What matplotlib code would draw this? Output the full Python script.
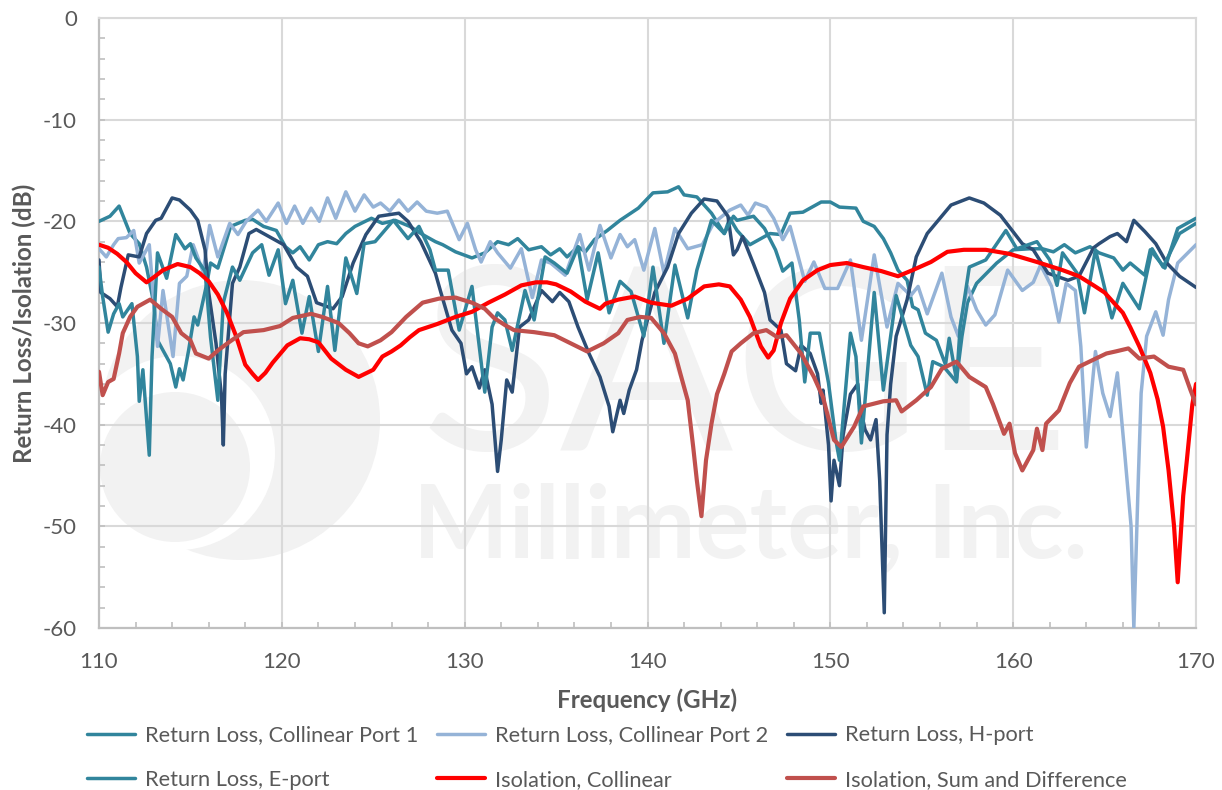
import matplotlib
matplotlib.use("Agg")
import matplotlib.pyplot as plt
from matplotlib.patches import Ellipse
from matplotlib.ticker import MultipleLocator

plt.rcParams['font.family'] = ['Lato', 'DejaVu Sans']
plt.rcParams['axes.unicode_minus'] = False

f_port1 = [110, 110.6, 111.1, 111.7, 112.2, 112.6, 113, 113.2, 113.9, 114.2, 114.4, 114.6, 114.9, 115.2, 115.4, 115.9,
           116.1, 116.5, 117.2, 118, 118.4, 119, 119.7, 120.2, 120.6, 121, 121.5, 122, 122.5, 123, 123.5, 124, 124.9,
           125.5, 126.2, 127, 127.7, 128.4, 128.8, 129.5, 130.4, 131.1, 131.8, 132.4, 132.9, 133.5, 134.2, 134.7,
           135.2, 135.6, 136.2, 136.6, 137.1, 137.8, 138.5, 139.5, 140.3, 141.1, 141.7, 142, 142.7, 143.5, 144.2,
           144.5, 144.9, 145.6, 146.2, 146.7, 147.3, 147.8, 148.5, 149.5, 150, 150.5, 151.4, 151.8, 152.4, 152.9,
           153.3, 153.7, 154.2, 154.5, 154.8, 155.2, 155.8, 156.3, 156.5, 156.9, 157.2, 157.5, 158, 159.1, 160, 160.9,
           161.6, 162.2, 162.8, 163.4, 164.2, 164.7, 165.5, 166, 166.4, 167.2, 167.5, 168.3, 169, 170]
port1 = [-20, -19.5, -18.5, -21.2, -22.2, -24.5, -28.1, -31.7, -34, -36.3, -34.5, -35.6, -32.7, -29.4, -30.2, -26.1,
         -24.1, -24.6, -20.5, -19.9, -19.8, -20.5, -20.9, -22.5, -23.1, -22.5, -23.8, -22.3, -22, -22.2, -21.2, -20.5,
         -19.7, -20.2, -19.9, -20.5, -21.3, -22, -22.3, -23, -23.6, -23.1, -22, -22.3, -21.7, -22.8, -22.5, -23.3,
         -22.7, -23.5, -22.5, -23, -21.8, -20.9, -19.9, -18.7, -17.2, -17.1, -16.6, -17.4, -17.6, -19.2, -21.2,
         -19.7, -20.9, -22.3, -21.7, -21.2, -21.3, -19.2, -19.1, -18.1, -18.1, -18.6, -18.7, -20, -20.5, -21.7,
         -23.1, -24.8, -25.8, -28.4, -28.7, -31, -31.7, -34.1, -31.5, -35.6, -31.3, -28, -26.1, -24.1, -22.8, -22.7,
         -22.7, -23, -22.3, -23.1, -22.5, -23.1, -23.6, -24.8, -24.1, -25.3, -22.8, -24.6, -20.7, -19.7]

f_port2 = [110, 110.4, 110.8, 111.05, 111.5, 111.9, 112.2, 112.75, 113, 113.2, 113.5, 114.05, 114.4, 114.8, 115.15,
           115.7, 116.05, 116.5, 117.15, 117.6, 118.05, 118.7, 119.15, 119.8, 120.25, 120.7, 121.15, 121.6, 122.05,
           122.5, 122.95, 123.5, 124, 124.5, 125, 125.4, 125.9, 126.4, 126.9, 127.4, 127.9, 128.5, 129.05, 129.7,
           130.15, 130.6, 130.9, 131.4, 131.8, 132.5, 133.1, 133.7, 134.2, 134.7, 135.5, 136.3, 136.8, 137.4, 138,
           138.5, 138.9, 139.3, 139.8, 140.4, 140.9, 141.5, 142.2, 143, 143.6, 144.5, 145.1, 145.5, 145.9, 146.5,
           146.9, 147.4, 147.8, 148.1, 148.6, 149.1, 149.7, 150.4, 151.1, 151.7, 152.4, 153.1, 153.7, 154.4, 154.8,
           155.3, 156.1, 156.6, 157, 157.5, 158, 158.5, 159, 159.7, 160.5, 161.1, 161.5, 162.1, 162.5, 162.9, 163.4,
           163.7, 164, 164.5, 164.9, 165.3, 165.7, 166.1, 166.45, 166.6, 166.85, 167, 167.3, 167.8, 168.2, 168.5, 169,
           170]
port2 = [-22.7, -23.5, -22.3, -21.7, -21.6, -20.9, -24.1, -22.3, -28, -32.3, -26.8, -33.3, -26.1, -25.4, -22.3,
         -25, -20.4, -23.5, -20.2, -21.3, -20, -18.9, -20, -18.2, -20.2, -18.5, -20.2, -18.7, -20,
         -17.7, -19.7, -17.1, -19, -17.4, -18.6, -18.2, -19, -17.9, -19, -18.1, -19, -19.2, -19, -21.8,
         -20.2, -22.8, -24, -22, -23.1, -24.6, -22.7, -27.5, -23.8, -24.1, -25.3, -21.3, -24.8, -20.4, -23.6,
         -21.3, -22.5, -21.8, -24.8, -20.7, -25.1, -20.7, -22.7, -22.3, -20.2, -18.9, -18.4, -19.4, -18.2, -18.6,
         -19.7, -21.8, -20.5, -22.5, -25.9, -24, -26.6, -26.6, -23.8, -31.7, -23.3, -30.4, -26.1, -27.3, -26.4,
         -29.1, -25.1, -29.4, -31.3, -26.4, -28.7, -30.2, -29.2, -24.8, -26.8, -26, -24.3, -26.4, -29.9, -26.1, -26.8,
         -32.3, -42.2, -32.8, -36.9, -39.2, -34.9, -42.8, -50, -60, -45, -36.9, -31.3, -28.9, -31.2, -27.7, -24.1,
         -22.3]

f_hport = [110, 110.1, 110.6, 111, 111.2, 111.6, 112.2, 112.6, 113.1, 113.4, 114, 114.4, 115, 115.4, 115.8, 116, 116.4,
           116.7, 116.8, 116.9, 117.3, 117.7, 118.2, 118.6, 119.3, 120.1, 120.8, 121.4, 121.9, 122.8, 123.3, 123.9,
           124.6, 125.3, 126.4, 126.9, 127.6, 128.4, 128.7, 129.3, 129.8, 130.1, 130.4, 130.8, 131.1, 131.5, 131.8, 132,
           132.3, 132.6, 133, 133.5, 134.2, 134.8, 135.2, 135.7, 136.2, 136.8, 137.4, 137.9, 138.1, 138.5, 138.7, 139,
           139.4, 139.7, 140.4, 141.1, 141.7, 142.4, 143.1, 143.8, 144.4, 144.7, 144.9, 145.2, 145.8, 146.4, 146.7,
           147.3, 147.6, 148.1, 148.4, 148.9, 149.3, 149.5, 149.6, 149.9, 150.04, 150.2, 150.5, 150.7, 151.1, 151.5,
           151.6, 151.9, 152.2, 152.5, 152.7, 152.95, 153.1, 153.3, 153.6, 154.2, 154.7, 155.3, 156, 156.6, 157.6, 158.4,
           159.3, 159.9, 160.5, 161.1, 161.9, 163, 163.6, 164.4, 164.7, 165.3, 165.7, 166.2, 166.6, 167.2, 167.8, 168.4,
           169.1, 170]
hport = [-23.8, -27, -27.6, -28.4, -26.5, -23.3, -23.5, -21.2, -19.9, -19.7, -17.7, -17.9, -18.9, -19.9, -22.8, -27, -32,
         -37.2, -42, -35, -26.1, -24.5, -21.2, -20.8, -21.5, -22.3, -24.5, -25.4, -28, -28.6, -27.4, -24.1,
         -21.3, -19.5, -19.2, -20, -22, -25.1, -27, -30.7, -32, -35, -34.3, -36.4, -34.6, -38, -44.6, -41.5,
         -35.6, -36.8, -30.4, -29.7, -26.8, -27.9, -27, -27.9, -30.4, -33, -35.3, -38.2, -40.7, -37.6, -38.9, -36.6,
         -34.6, -31.7, -27, -24.5, -21.2, -19.2, -17.8, -18, -19.5, -23.3, -22.8, -21.5, -24.2, -27, -29.7,
         -30.7, -34, -34.7, -32.2, -33, -35, -37.9, -36.6, -42, -47.5, -43.5, -46, -41, -37, -36,
         -38, -40.5, -41.5, -39.5, -45.5, -58.5, -41, -36, -31.3, -27.7, -23.5, -21.2, -19.7, -18.4, -17.7, -18.2,
         -19.4, -20.8, -22.2, -22.8, -25.1, -25.8, -25.4, -22.6, -22.2, -21.5, -21.2, -22, -19.9, -21, -22.2, -24.1,
         -25.4, -26.5]

f_eport = [110, 110.2, 110.5, 110.8, 111.1, 111.3, 111.8, 112.1, 112.2, 112.4, 112.75, 112.9, 113.2, 113.7, 114.2, 114.7,
           115, 115.3, 115.8, 116.1, 116.5, 116.8, 117.3, 117.7, 118.4, 118.9, 119.3, 119.8, 120.2, 120.6, 121.1, 121.5,
           122, 122.5, 122.9, 123.5, 124.1, 124.5, 125.1, 126.1, 126.9, 127.5, 128.1, 128.4, 129.1, 129.7, 130.4, 131.1,
           131.5, 131.8, 132.2, 132.6, 133.3, 133.8, 134.4, 134.9, 135.6, 136.2, 136.7, 137.3, 137.9, 138.5, 139.1, 139.8,
           140.3, 140.9, 141.5, 142.2, 142.7, 143.5, 144.2, 144.7, 144.9, 145.8, 146.4, 147, 147.4, 147.9, 148.3, 148.6,
           148.9, 149.4, 149.9, 150.3, 150.5, 151.1, 151.4, 151.7, 152.4, 152.9, 153.6, 154.4, 154.8, 155.3, 155.6, 156.2,
           156.9, 157.1, 157.6, 158.5, 159.6, 160.2, 161.3, 162, 162.4, 162.7, 163.5, 163.9, 164.5, 165.4, 166, 166.9,
           167.6, 168.2, 169.1, 170]
eport = [-24.5, -27.4, -30.9, -29.1, -28.1, -29.4, -28.1, -33.3, -37.7, -34.6, -43, -33.3, -23.1, -25.6, -21.3, -22.7,
         -22.2, -23.6, -24.9, -31.4, -37.6, -28, -24.5, -25.8, -23.1, -22.3, -25.3, -22.8, -28.1, -25.8, -31, -27.4,
         -32.8, -26.4, -32.7, -23.6, -27.1, -22.2, -22, -19.9, -21.7, -20.5, -22.8, -24.8, -24.8, -30.7, -26.4, -36.8,
         -30.4, -29, -29.7, -32.7, -26.8, -29.7, -23.5, -24.1, -25.1, -22.5, -27.7, -23.1, -29, -25.9, -26.9, -31.3,
         -24.5, -32, -24.3, -29.5, -24.8, -19.9, -21.2, -19.5, -19.9, -19.5, -20.7, -22.8, -24.9, -24.1, -29.7, -35.8,
         -31, -31, -35.9, -41.5, -43.5, -31, -33.3, -41.8, -27, -36.6, -27.3, -32.2, -33.3, -37.1, -33.8, -34.3,
         -35.8, -30.4, -24.5, -23.8, -20.9, -22.7, -22, -23.8, -26.3, -23.1, -25.1, -29, -22.8, -29.5, -26.1, -28.6,
         -22.7, -24.5, -21.2, -20.2]

f_iso_col = [110, 110.5, 111, 111.5, 112, 112.6, 113, 113.5, 114.3, 115, 115.5, 116, 116.5, 117, 117.5, 118, 118.4, 118.7,
             119.1, 119.5, 120.3, 121, 121.5, 122, 122.7, 123.5, 124.2, 125, 125.5, 126, 126.5, 127, 127.5, 128.5, 129.5,
             130.4, 131.3, 132.2, 133.1, 133.9, 134.5, 135, 135.8, 136.6, 137.4, 137.7, 138.4, 139.3, 140.2, 141.3, 142.2,
             143.1, 143.9, 144.5, 145.1, 145.6, 146.2, 146.6, 146.9, 147.3, 147.8, 148.5, 149.3, 150, 150.9, 151.8, 152.8,
             153.7, 154.5, 155.5, 156.4, 157.3, 158.5, 159.8, 161.3, 162.7, 163.6, 164.4, 165, 165.5, 166, 166.4, 166.9,
             167.5, 167.9, 168.2, 168.5, 168.8, 169, 169.3, 169.5, 169.8, 170]
iso_col = [-22.3, -22.6, -23.2, -24, -25.1, -26, -25.5, -24.8, -24.2, -24.5, -25.1, -25.9, -27.2, -29, -31.3, -34.1, -35, -35.6,
           -34.9, -33.9, -32.2, -31.5, -31.6, -31.9, -33.5, -34.6, -35.3, -34.6, -33.3, -32.8, -32.2, -31.4, -30.7, -30.1, -29.4,
           -28.9, -28, -27.2, -26.3, -26, -26, -26.2, -26.9, -27.9, -28.6, -28.1, -27.7, -27.4, -28, -28.3, -27.6,
           -26.4, -26.2, -26.4, -27.7, -29.4, -32.3, -33.4, -32.7, -30, -27.6, -25.8, -24.8, -24.3, -24.1, -24.5, -24.9,
           -25.4, -24.8, -24, -23, -22.8, -22.8, -23.2, -24, -24.8, -25.4, -26.3, -27, -28, -29, -30.4, -32.3,
           -34.9, -37.5, -40.2, -44.5, -50, -55.5, -47, -43.5, -38, -36]

f_iso_sum = [110, 110.2, 110.5, 110.8, 111.1, 111.3, 111.7, 112.1, 112.8, 113.4, 114, 114.5, 115, 115.3, 116, 116.5, 117.1,
             117.9, 119, 119.9, 120.6, 121.6, 122.2, 123.1, 123.7, 124.2, 124.7, 125.4, 126, 126.8, 127.7, 128.6, 129.5,
             130.4, 131.1, 131.6, 132.2, 132.7, 133.8, 134.9, 135.8, 136.7, 137.6, 138.4, 138.9, 139.6, 140.2, 140.9,
             141.5, 141.8, 142.2, 142.5, 142.7, 142.95, 143.2, 143.5, 143.8, 144.2, 144.6, 145.1, 145.8, 146.5, 147.1,
             147.6, 148.4, 149.1, 149.6, 150.2, 150.6, 151.3, 151.8, 152.9, 153.6, 153.9, 154.7, 155.5, 156.1, 156.9,
             157.6, 158.5, 158.9, 159.5, 159.8, 160.1, 160.5, 161.1, 161.3, 161.6, 161.8, 162.5, 163.1, 163.6, 164.4,
             165.1, 165.6, 166.3, 166.9, 167.7, 168.5, 169.3, 169.7, 170]
iso_sum = [-34.8, -37.1, -35.8, -35.5, -33, -31, -29.4, -28.4, -27.7, -28.6, -29.4, -31, -31.7, -33, -33.5, -32.7, -31.9,
           -30.9, -30.7, -30.3, -29.5, -29.1, -29.4, -30, -31, -32, -32.3, -31.7, -30.9, -29.4, -28, -27.6, -27.5,
           -28, -28.6, -29.5, -30.2, -30.7, -30.9, -31.2, -32, -32.8, -32, -31, -29.7, -29.4, -29.5, -31,
           -33, -35, -37.6, -42.2, -45.5, -49, -43.5, -39.9, -37, -35, -32.8, -32, -31, -30.7, -31.4,
           -31.2, -33, -35.3, -37.3, -41.5, -42.2, -40.2, -38.2, -37.7, -37.6, -38.7, -37.6, -36.3, -34.5, -33.8,
           -35.3, -36.3, -38, -40.9, -39.9, -42.8, -44.5, -42.5, -40.4, -42.5, -39.9, -38.6, -35.9, -34.3, -33.6,
           -33, -32.8, -32.5, -33.5, -33.3, -34.3, -34.6, -36.6, -38]

teal = "#31859C"
light_blue = "#95B3D7"
navy = "#2C4D75"
red = "#FF0000"
brown = "#C0504D"
text_col = "#595959"
wm_col = "#F2F2F2"


def logo_disc(ax, px, py, r, color, z):
    # circle given in figure pixels, so it stays round on the stretched axes
    x = (px - 99) / 1097
    y = (628 - py) / 610
    ax.add_patch(Ellipse((x, y), 2 * r / 1097, 2 * r / 610, transform=ax.transAxes, color=color, lw=0, zorder=z))


fig = plt.figure(figsize=(12.22, 7.90), dpi=100)
ax = fig.add_axes([99 / 1222, 1 - 628 / 790, 1097 / 1222, 610 / 790])

# faint company logo behind the data
logo_disc(ax, 240, 420, 140, wm_col, 0)
logo_disc(ax, 178, 453, 97, "white", 0.1)
logo_disc(ax, 175, 467, 75, wm_col, 0.2)
ax.text(0.293, 0.292, "SAGE", transform=ax.transAxes, fontsize=185, color=wm_col,
        va="baseline", ha="left", zorder=0.3)
ax.text(0.286, 0.116, "Millimeter, Inc.", transform=ax.transAxes, fontsize=73, fontweight="bold", color=wm_col,
        va="baseline", ha="left", zorder=0.3)

lines = [
    (f_port1, port1, teal, 2.5, "Return Loss, Collinear Port 1"),
    (f_port2, port2, light_blue, 2.5, "Return Loss, Collinear Port 2"),
    (f_hport, hport, navy, 2.5, "Return Loss, H-port"),
    (f_eport, eport, teal, 2.5, "Return Loss, E-port"),
    (f_iso_col, iso_col, red, 3.0, "Isolation, Collinear"),
    (f_iso_sum, iso_sum, brown, 3.0, "Isolation, Sum and Difference"),
]
for xs, ys, col, lw, name in lines:
    ax.plot(xs, ys, color=col, lw=lw, label=name, zorder=3, solid_joinstyle="round", solid_capstyle="round")

ax.set_xlim(110, 170)
ax.set_ylim(-60, 0)
ax.xaxis.set_major_locator(MultipleLocator(10))
ax.xaxis.set_minor_locator(MultipleLocator(2))
ax.yaxis.set_major_locator(MultipleLocator(10))
ax.yaxis.set_minor_locator(MultipleLocator(2))
ax.grid(True, which="major", color="#D9D9D9", lw=1.5, zorder=1)
ax.set_axisbelow(True)
ax.tick_params(which="minor", direction="in", length=4, width=1.2, color="#BFBFBF")
ax.tick_params(which="major", direction="in", length=4, width=1.2, color="#BFBFBF", labelsize=16, labelcolor=text_col)
ax.tick_params(axis="x", which="major", pad=17)
ax.tick_params(axis="y", which="major", pad=16)

for side in ["left", "bottom"]:
    ax.spines[side].set_color("#BFBFBF")
    ax.spines[side].set_linewidth(1.6)
for side in ["top", "right"]:
    ax.spines[side].set_color("#D9D9D9")
    ax.spines[side].set_linewidth(1.5)

ax.set_xlabel("Frequency (GHz)", fontsize=17.4, fontweight="bold", color=text_col, labelpad=12)
ax.set_ylabel("Return Loss/Isolation (dB)", fontsize=17.4, fontweight="bold", color=text_col, labelpad=5)

handles, labels = ax.get_legend_handles_labels()
order = [0, 3, 1, 4, 2, 5]
fig.legend([handles[i] for i in order], [labels[i] for i in order], ncol=3, frameon=False,
           loc="lower left", bbox_to_anchor=(87 / 1222, 0), borderaxespad=0, borderpad=0, fontsize=15.7,
           labelcolor=text_col, handlelength=2.2, handletextpad=0.46, columnspacing=0.87, labelspacing=1.14)

fig.savefig("out.png", dpi=100)
